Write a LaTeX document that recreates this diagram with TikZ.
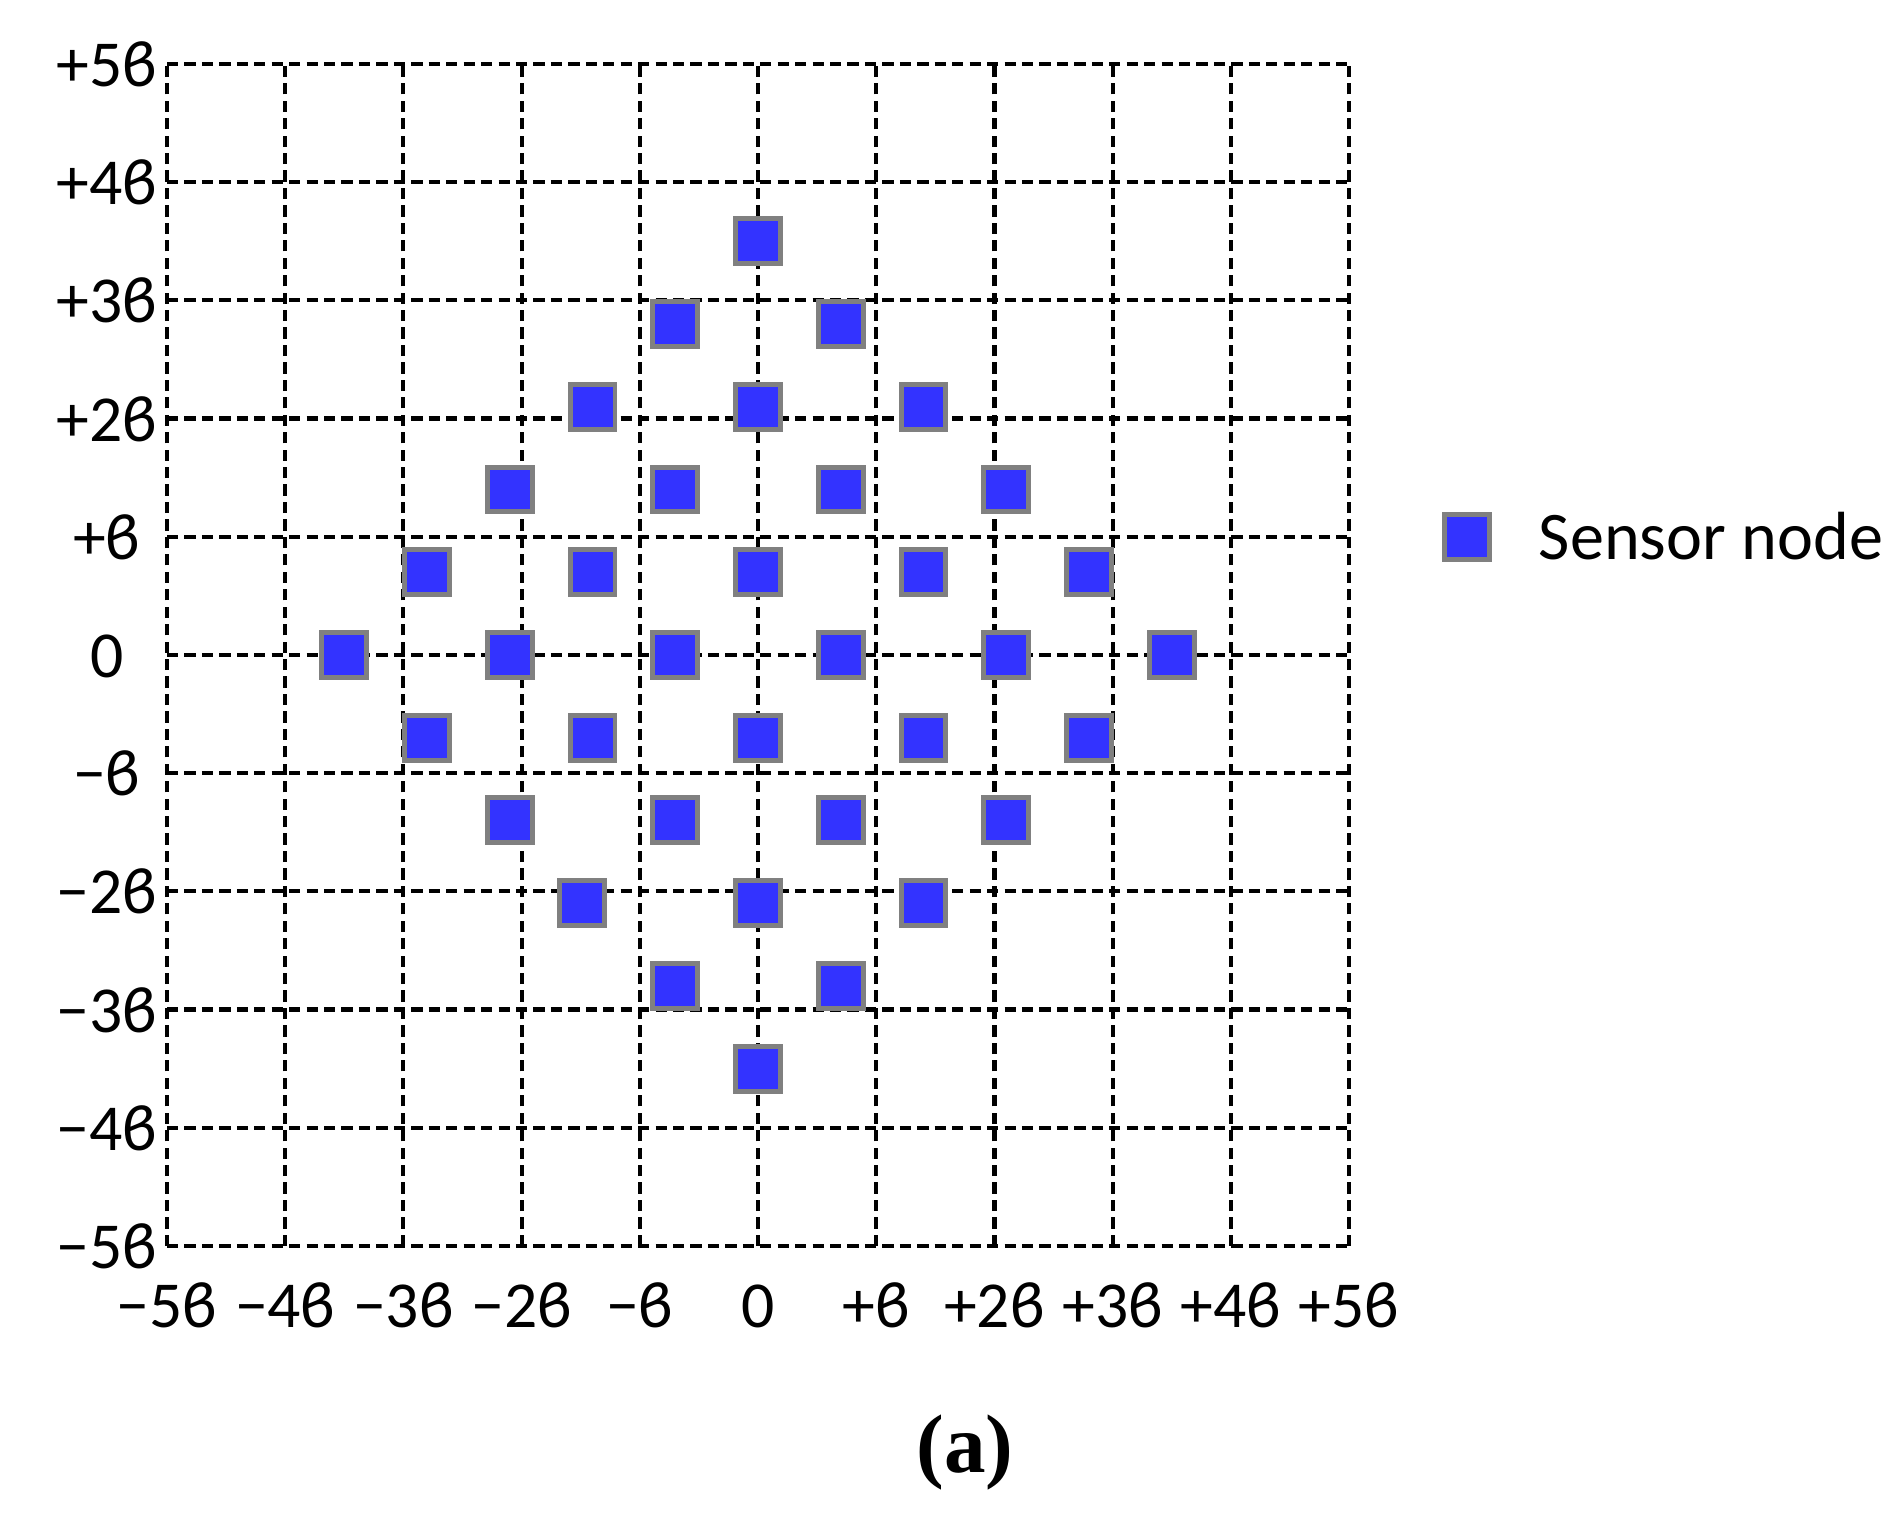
\documentclass[tikz,border=0pt]{standalone}
\usepackage{fontspec}
\usepackage{xcolor}
\setmainfont{Carlito}
\newfontfamily\capfont{Liberation Serif}
\definecolor{sensorblue}{RGB}{51,51,255}
\definecolor{sensorgrey}{RGB}{128,128,128}

\begin{document}
\begin{tikzpicture}
    % Define styles
    \tikzstyle{gridline} = [black, dashed, dash pattern=on 2.7pt off 1.5pt, line width=1pt]
    \tikzstyle{sensor} = [rectangle, draw=sensorgrey, fill=sensorblue, line width=1.2pt, inner sep=0pt, minimum size=0.38cm]
    \tikzstyle{ticklabel} = [inner sep=0pt, font=\fontsize{15.8}{18}\selectfont, anchor=base]
    \useasboundingbox (-6.413,-7.335) rectangle (9.653,5.541);

    % Grid
    \foreach \k in {-5,...,5} {
        \draw [gridline] (\k,-5) -- (\k,5);
        \draw [gridline] (-5,\k) -- (5,\k);
    }

    % Axis labels
    \foreach \v/\t [count=\i] in {5/+5ϐ, 4/+4ϐ, 3/+3ϐ, 2/+2ϐ, 1/+ϐ, 0/0, -1/−ϐ, -2/−2ϐ, -3/−3ϐ, -4/−4ϐ, -5/−5ϐ} {
        \node (ylab\i) [ticklabel] at (-5.51,\v-0.19) {\t};
    }
    \foreach \v/\t [count=\i] in {-5/−5ϐ, -4/−4ϐ, -3/−3ϐ, -2/−2ϐ, -1/−ϐ, 0/0, 1/+ϐ, 2/+2ϐ, 3/+3ϐ, 4/+4ϐ, 5/+5ϐ} {
        \node (xlab\i) [ticklabel] at (\v,-5.69) {\t};
    }

    % Sensor nodes
    \foreach \x/\y [count=\i] in {
        0/3.5,
        -0.7/2.8, 0.7/2.8,
        -1.4/2.1, 0/2.1, 1.4/2.1,
        -2.1/1.4, -0.7/1.4, 0.7/1.4, 2.1/1.4,
        -2.8/0.7, -1.4/0.7, 0/0.7, 1.4/0.7, 2.8/0.7,
        -3.5/0, -2.1/0, -0.7/0, 0.7/0, 2.1/0, 3.5/0,
        -2.8/-0.7, -1.4/-0.7, 0/-0.7, 1.4/-0.7, 2.8/-0.7,
        -2.1/-1.4, -0.7/-1.4, 0.7/-1.4, 2.1/-1.4,
        -1.49/-2.1, 0/-2.1, 1.4/-2.1,
        -0.7/-2.8, 0.7/-2.8,
        0/-3.5} {
        \node (s\i) [sensor] at (\x,\y) {};
    }

    % Legend
    \node (key) [sensor] at (6.0,1.0) {};
    \node (keytext) [ticklabel, font=\fontsize{16.4}{19}\selectfont, anchor=base west] at (6.6,0.81) {Sensor node};

    % Caption
    \node (caption) [inner sep=0pt, anchor=base, font=\capfont\bfseries\fontsize{20}{24}\selectfont] at (1.75,-6.92) {(a)};
\end{tikzpicture}
\end{document}
